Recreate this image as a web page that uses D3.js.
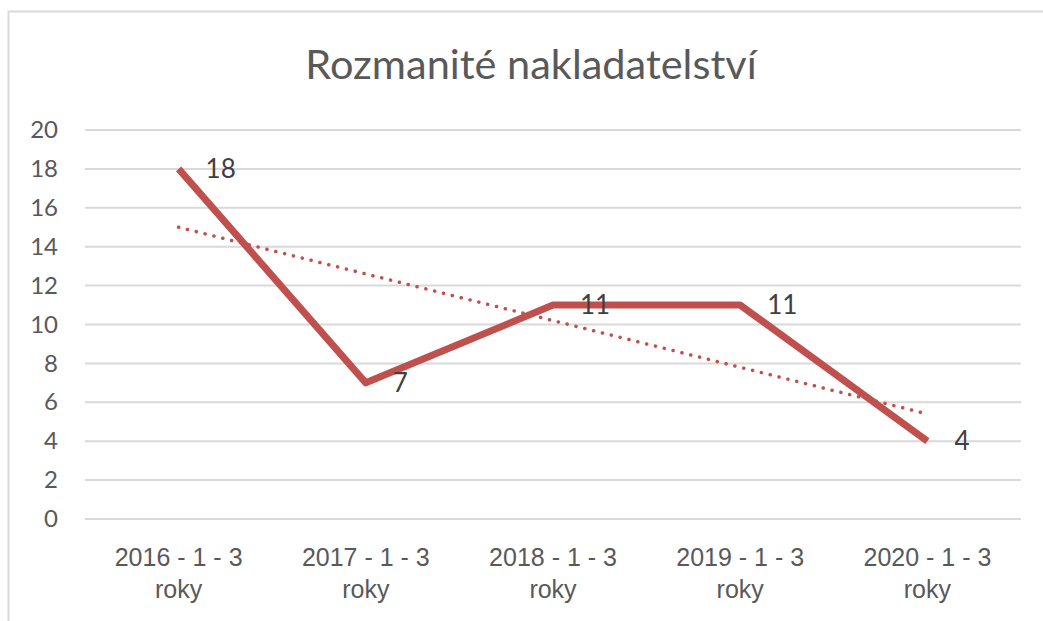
<!DOCTYPE html>
<html>
<head>
<meta charset="utf-8">
<script src="https://cdn.jsdelivr.net/npm/d3@7"></script>
<style>
  body { margin: 0; background: #fff; }
  svg { display: block; font-family: Lato, "Open Sans", sans-serif; }
</style>
</head>
<body>
<div id="container"></div>
<script>
const title = "Rozmanité nakladatelství";
const categories = ["2016 - 1 - 3 roky", "2017 - 1 - 3 roky", "2018 - 1 - 3 roky", "2019 - 1 - 3 roky", "2020 - 1 - 3 roky"];
const values = [18, 7, 11, 11, 4];
const yTicks = [0, 2, 4, 6, 8, 10, 12, 14, 16, 18, 20];

const w = 1043;
const h = 621;
const margin = { left: 85, right: 22, top: 130, bottom: 102 };

const svg = d3
  .select("#container")
  .append("svg")
  .attr("width", w)
  .attr("height", h);

// chart frame (cropped at right and bottom)
svg
  .append("path")
  .attr("d", `M8.5,${h + 2} V11.5 H${w + 2}`)
  .attr("fill", "none")
  .attr("stroke", "#d9d9d9")
  .attr("stroke-width", 2);

const xScale = d3
  .scaleBand()
  .domain(categories)
  .range([margin.left, w - margin.right]);

const yScale = d3
  .scaleLinear()
  .domain([0, 20])
  .range([h - margin.bottom, margin.top]);

const cx = (d) => xScale(d) + xScale.bandwidth() / 2;

// title
svg
  .append("text")
  .attr("x", 531)
  .attr("y", 79)
  .attr("text-anchor", "middle")
  .attr("fill", "#595959")
  .style("font-size", "41.5px")
  .text(title);

// gridlines
svg
  .append("g")
  .selectAll("line")
  .data(yTicks)
  .enter()
  .append("line")
  .attr("x1", margin.left)
  .attr("x2", w - margin.right)
  .attr("y1", (d) => yScale(d))
  .attr("y2", (d) => yScale(d))
  .attr("stroke", "#d9d9d9")
  .attr("stroke-width", 2);

// y axis
const yAxis = svg
  .append("g")
  .attr("transform", `translate(${margin.left}, 0)`)
  .call(d3.axisLeft(yScale).tickValues(yTicks).tickSize(0).tickPadding(27));
yAxis.select(".domain").remove();
yAxis
  .selectAll("text")
  .attr("fill", "#595959")
  .style("font-family", "Lato, sans-serif")
  .style("font-size", "24px");

// x axis
const xAxis = svg
  .append("g")
  .attr("transform", `translate(0, ${h - margin.bottom})`)
  .call(d3.axisBottom(xScale).tickSize(0).tickFormat(""));
xAxis.select(".domain").remove();
xAxis
  .selectAll(".tick")
  .append("text")
  .attr("fill", "#595959")
  .attr("text-anchor", "middle")
  .style("font-size", "25px")
  .selectAll("tspan")
  .data((d) => {
    const i = d.indexOf(" roky");
    return [d.slice(0, i), d.slice(i + 1)];
  })
  .enter()
  .append("tspan")
  .attr("x", 0)
  .attr("y", (d, i) => 47 + i * 32)
  .text((d) => d);

// linear trendline (least squares, like Excel)
const xs = values.map((d, i) => i + 1);
const mx = d3.mean(xs);
const my = d3.mean(values);
const slope =
  d3.sum(xs, (x, i) => (x - mx) * (values[i] - my)) /
  d3.sum(xs, (x) => (x - mx) ** 2);
const trend = xs.map((x) => my + slope * (x - mx));

svg
  .append("path")
  .datum(trend)
  .attr("fill", "none")
  .attr("stroke", "#c0504d")
  .attr("stroke-width", 3.5)
  .attr("stroke-linecap", "round")
  .attr("stroke-dasharray", "0.1 9")
  .attr(
    "d",
    d3
      .line()
      .x((d, i) => cx(categories[i]))
      .y((d) => yScale(d))
  );

// main line
svg
  .append("path")
  .datum(values)
  .attr("fill", "none")
  .attr("stroke", "#c0504d")
  .attr("stroke-width", 7)
  .attr("stroke-linejoin", "round")
  .attr(
    "d",
    d3
      .line()
      .x((d, i) => cx(categories[i]))
      .y((d) => yScale(d))
  );

// data labels
svg
  .append("g")
  .selectAll("text")
  .data(values)
  .enter()
  .append("text")
  .attr("x", (d, i) => cx(categories[i]) + 27)
  .attr("y", (d) => yScale(d))
  .attr("dy", "0.35em")
  .attr("fill", "#404040")
  .style("font-size", "26px")
  .text((d) => d);
</script>
</body>
</html>
